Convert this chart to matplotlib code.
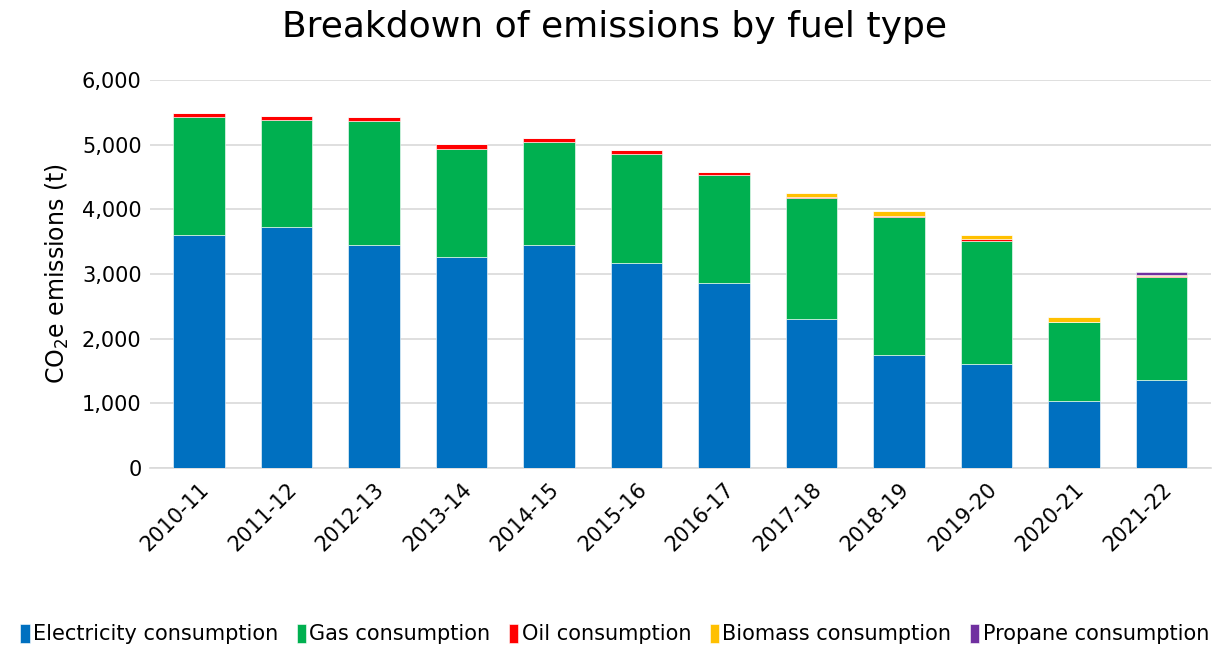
import numpy as np
from matplotlib import pyplot as plt
from matplotlib.ticker import FuncFormatter

years = ['2010-11', '2011-12', '2012-13', '2013-14', '2014-15', '2015-16',
         '2016-17', '2017-18', '2018-19', '2019-20', '2020-21', '2021-22']
electricity = [3600, 3730, 3450, 3265, 3450, 3170, 2860, 2305, 1750, 1610, 1040, 1360]
gas = [1830, 1650, 1910, 1670, 1600, 1680, 1665, 1870, 2135, 1905, 1220, 1595]
oil = [56, 60, 62, 75, 62, 76, 56, 20, 10, 20, 0, 10]
biomass = [0, 0, 0, 0, 0, 0, 0, 60, 75, 62, 75, 25]
propane = [0, 0, 0, 0, 0, 0, 0, 0, 0, 0, 0, 40]

series = [('Electricity consumption', electricity, '#0070C0'),
          ('Gas consumption', gas, '#00B050'),
          ('Oil consumption', oil, '#FF0000'),
          ('Biomass consumption', biomass, '#FFC000'),
          ('Propane consumption', propane, '#7030A0')]

fig = plt.figure(figsize=(12.29, 6.46), dpi=100)
ax = fig.add_axes([0.122, 0.2755, 0.863, 0.6005])

x = np.arange(len(years))
bottom = np.zeros(len(years))
for name, vals, col in series:
    ax.bar(x, vals, 0.59, bottom=bottom, color=col, label=name,
           edgecolor='white', linewidth=0.4, zorder=3)
    bottom += np.array(vals)

ax.set_ylim(0, 6000)
ax.set_xlim(-0.56, len(years) - 0.44)
ax.set_yticks(range(0, 6001, 1000))
ax.yaxis.set_major_formatter(FuncFormatter(lambda v, p: '{:,.0f}'.format(v)))
ax.grid(axis='y', color='#d9d9d9', linewidth=1.2, zorder=0)
for s in ['top', 'right', 'left']:
    ax.spines[s].set_visible(False)
ax.spines['bottom'].set_color('#d9d9d9')
ax.spines['bottom'].set_linewidth(1.2)
ax.tick_params(axis='both', length=0, labelsize=15, colors='black')
ax.tick_params(axis='y', pad=6)
ax.tick_params(axis='x', pad=8)
ax.set_xticks(x)
ax.set_xticklabels(years, rotation=45, ha='right', rotation_mode='anchor')
ax.set_ylabel('CO$_2$e emissions (t)', fontsize=17, labelpad=8)

fig.suptitle('Breakdown of emissions by fuel type', fontsize=26, y=0.985)

fig.legend(loc='lower center', ncol=5, bbox_to_anchor=(0.5, -0.02), frameon=False,
           fontsize=15, handlelength=0.45, handleheight=1.0, handletextpad=0.15,
           columnspacing=0.9, borderaxespad=0.3)

fig.savefig('out.png', dpi=100)
